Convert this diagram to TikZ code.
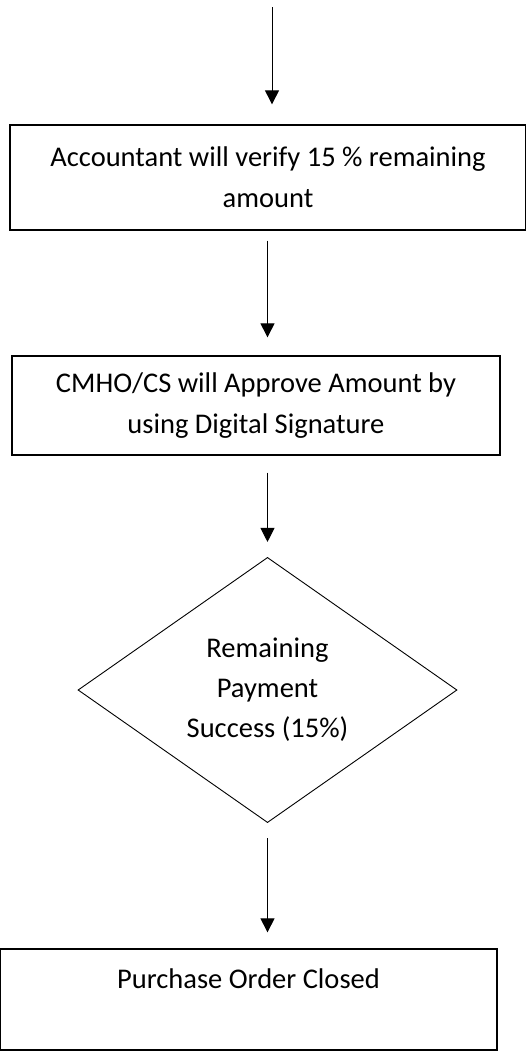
\documentclass[tikz,border=0pt]{standalone}
\usepackage{fontspec}
\setmainfont{Carlito}
\usetikzlibrary{shapes.geometric,arrows.meta}

\begin{document}
\begin{tikzpicture}[x=1pt, y=-1pt,
  box/.style = {draw, rectangle, line width=1.3pt, inner sep=0pt, align=center, font=\fontsize{28.5}{41}\selectfont},
  decision/.style = {draw, diamond, line width=0.9pt, inner sep=0pt, align=center, font=\fontsize{28.5}{40}\selectfont, minimum width=379pt, minimum height=260pt},
  flow/.style = {draw, line width=1pt, -{Triangle[width=14pt,length=14pt]}}]
\useasboundingbox (0,0) rectangle (525,1052);

\node[box, minimum width=516pt, minimum height=105pt] (1) at (268,177.5) {Accountant will verify 15 \% remaining\\amount};
\node[box, minimum width=488pt, minimum height=99pt] (2) at (256,405.5) {CMHO/CS will Approve Amount by\\using Digital Signature};
\node[decision] (3) at (267.5,690) {Remaining\\Payment\\Success (15\%)};
\node[box, minimum width=497pt, minimum height=101pt] (4) at (248.5,999.5) {Purchase Order Closed\\ ~};

\coordinate (0) at (272,7);

\draw[flow, shorten >=20pt] (0) -- (1.north -| 0);
\draw[flow, shorten <=10pt, shorten >=18pt] (1.south -| 3.north) -- (2.north -| 3.north);
\draw[flow, shorten <=17pt, shorten >=15pt] (2.south -| 3.north) -- (3.north);
\draw[flow, shorten <=15pt, shorten >=16pt] (3.south) -- (4.north -| 3.south);

\end{tikzpicture}
\end{document}
